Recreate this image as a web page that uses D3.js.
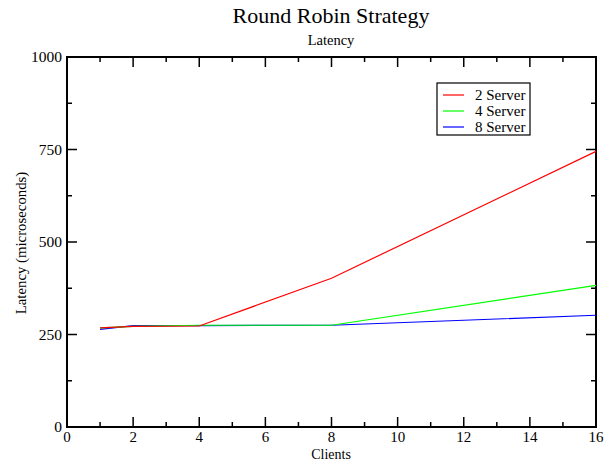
<!DOCTYPE html>
<html><head><meta charset="utf-8">
<script src="https://cdn.jsdelivr.net/npm/d3@7"></script>
<style>body{margin:0;background:#fff}text{font-family:"Liberation Serif","Times New Roman",serif}</style>
</head><body><svg id="c" width="611" height="462"></svg>
<script>
const clients = [1, 2, 4, 8, 16];
const server2 = [268, 272, 273, 402, 745];
const server4 = [268, 272, 275, 275, 383];
const server8 = [264, 274, 274, 275, 302];
const seriesNames = ["2 Server", "4 Server", "8 Server"];
const seriesColors = ["#ff0000", "#00ff00", "#0000ff"];
const xTicks = [0, 2, 4, 6, 8, 10, 12, 14, 16];
const yTicks = [0, 250, 500, 750, 1000];

const svg = d3.select("#c");
const m = {l: 67, r: 596, t: 57, b: 427};
const x = d3.scaleLinear().domain([0, 16]).range([m.l, m.r]);
const y = d3.scaleLinear().domain([0, 1000]).range([m.b, m.t]);

// frame
svg.append("rect").attr("x", m.l).attr("y", m.t).attr("width", m.r - m.l).attr("height", m.b - m.t)
  .attr("fill", "none").attr("stroke", "#000").attr("stroke-width", 2);

const xMinor = d3.range(0, 17, 1).filter(v => v % 2 !== 0);
const yMinor = d3.range(125, 1000, 250);
const g = svg.append("g").attr("stroke", "#000").attr("stroke-width", 1.5);
function tick(x1, y1, x2, y2) { g.append("line").attr("x1", x1).attr("y1", y1).attr("x2", x2).attr("y2", y2); }
xTicks.slice(1, -1).forEach(v => { tick(x(v), m.b, x(v), m.b - 10); tick(x(v), m.t, x(v), m.t + 10); });
xMinor.forEach(v => { tick(x(v), m.b, x(v), m.b - 5); tick(x(v), m.t, x(v), m.t + 5); });
yTicks.slice(1, -1).forEach(v => { tick(m.l, y(v), m.l + 10, y(v)); tick(m.r, y(v), m.r - 10, y(v)); });
yMinor.forEach(v => { tick(m.l, y(v), m.l + 5, y(v)); tick(m.r, y(v), m.r - 5, y(v)); });

// tick labels
svg.append("g").selectAll("text").data(xTicks).join("text")
  .attr("x", d => x(d)).attr("y", 442).attr("text-anchor", "middle").attr("font-size", 15).text(d => d);
svg.append("g").selectAll("text").data(yTicks).join("text")
  .attr("x", 62).attr("y", d => y(d) + 5).attr("text-anchor", "end").attr("font-size", 15.5).text(d => d);

// titles
svg.append("text").attr("x", 331).attr("y", 23).attr("text-anchor", "middle").attr("font-size", 22).text("Round Robin Strategy");
svg.append("text").attr("x", 331).attr("y", 45).attr("text-anchor", "middle").attr("font-size", 14.5).text("Latency");
svg.append("text").attr("x", 331).attr("y", 459).attr("text-anchor", "middle").attr("font-size", 14).text("Clients");
svg.append("text").attr("transform", "translate(26,243) rotate(-90)").attr("text-anchor", "middle").attr("font-size", 14.8).text("Latency (microseconds)");

// lines
const data = [server2, server4, server8];
const line = d3.line().x((d, i) => x(clients[i])).y(d => y(d));
[2, 1, 0].forEach(k => {
  svg.append("path").datum(data[k]).attr("d", line).attr("fill", "none")
    .attr("stroke", seriesColors[k]).attr("stroke-width", 1.2);
});

// legend
const lg = svg.append("g");
lg.append("rect").attr("x", 437).attr("y", 83).attr("width", 93).attr("height", 52)
  .attr("fill", "#fff").attr("stroke", "#000").attr("stroke-width", 1.2);
seriesNames.forEach((n, i) => {
  const yy = 95 + i * 16;
  lg.append("line").attr("x1", 443).attr("x2", 464).attr("y1", yy).attr("y2", yy).attr("stroke", seriesColors[i]).attr("stroke-width", 1.2);
  lg.append("text").attr("x", 475).attr("y", yy + 5).attr("font-size", 15).text(n);
});
</script></body></html>
